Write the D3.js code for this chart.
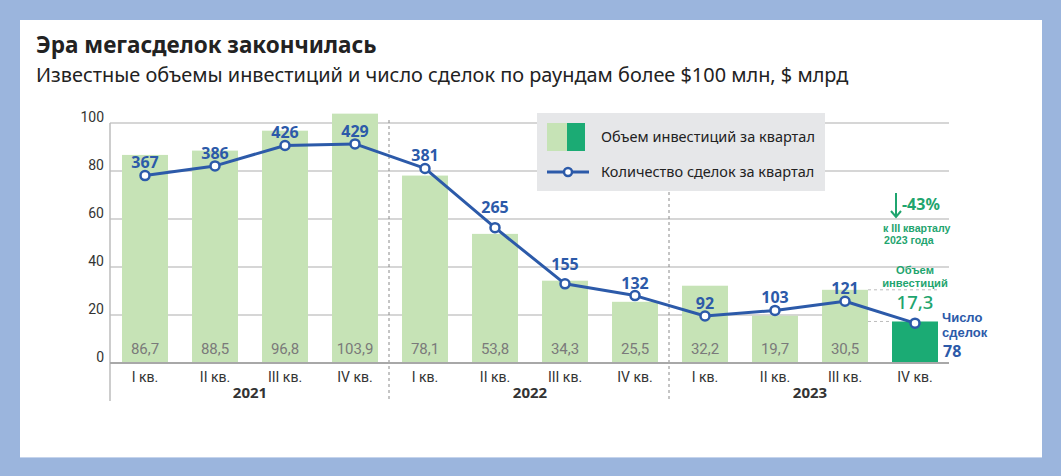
<!DOCTYPE html>
<html><head><meta charset="utf-8">
<script src="https://cdn.jsdelivr.net/npm/d3@7"></script>
<style>
html,body{margin:0;padding:0;background:#9bb5dd;}
svg{display:block;}
</style></head>
<body>
<svg id="chart" width="1061" height="476"></svg>
<script>
const title = "Эра мегасделок закончилась";
const subtitle = "Известные объемы инвестиций и число сделок по раундам более $100 млн, $ млрд";
const quarters = ["I кв.","II кв.","III кв.","IV кв.","I кв.","II кв.","III кв.","IV кв.","I кв.","II кв.","III кв.","IV кв."];
const years = ["2021","2022","2023"];
const investment = [86.7, 88.5, 96.8, 103.9, 78.1, 53.8, 34.3, 25.5, 32.2, 19.7, 30.5, 17.3];
const deals = [367, 386, 426, 429, 381, 265, 155, 132, 92, 103, 121, 78];
const yTicks = [0, 20, 40, 60, 80, 100];
const legendLabels = ["Объем инвестиций за квартал", "Количество сделок за квартал"];
const changeLabel = "-43%";
const changeNote = ["к III кварталу", "2023 года"];
const lastInvLabel = ["Объем", "инвестиций"];
const lastDealLabel = ["Число", "сделок"];

const fmt = v => String(v).replace(".", ",");
const LIGHT = "#c6e3b6", DARK = "#1bab74", BLUE = "#2c5aa9", GREEN = "#1fa56f";

const svg = d3.select("#chart");
svg.append("rect").attr("x",0).attr("y",0).attr("width",1061).attr("height",476).attr("fill","#9bb5dd");
svg.append("rect").attr("x",20).attr("y",20).attr("width",1022).attr("height",437).attr("fill","#fff");
svg.append("line").attr("x1",20).attr("x2",1042).attr("y1",457.5).attr("y2",457.5).attr("stroke","#c5d4ec").attr("stroke-width",1);

svg.append("text").attr("x",36).attr("y",53).text(title)
  .attr("font-family","Noto Sans").attr("font-weight",700).attr("font-size",22.5).attr("fill","#222");
svg.append("text").attr("x",36).attr("y",82).text(subtitle)
  .attr("font-family","Noto Sans").attr("font-size",19.9).attr("fill","#222");

const n = investment.length;
const idx = d3.range(n);
const x = d3.scaleBand().domain(idx).range([110, 950]).paddingInner(24/70).paddingOuter(12/70);
const y = d3.scaleLinear().domain([0, 100]).range([363, 123]);
const y2 = d3.scaleLinear().domain([0, 470]).range([363, 123]);
const cx = i => x(i) + x.bandwidth()/2;
const lastI = n - 1;

// gridlines
const g = svg.append("g");
g.selectAll("line.grid").data(yTicks.filter(t => t > 0)).join("line")
  .attr("x1", 110).attr("x2", t => t === 20 ? x(lastI - 1) + x.bandwidth() : 949)
  .attr("y1", t => y(t)).attr("y2", t => y(t))
  .attr("stroke", "#c9c9c9").attr("stroke-width", 1.5);

// y axis labels
const yAxis = d3.axisLeft(y).tickValues(yTicks).tickSize(0).tickPadding(6);
const ya = svg.append("g").attr("transform","translate(110,-6)").call(yAxis);
ya.select(".domain").remove();
ya.selectAll("text").attr("font-family","Roboto").attr("font-size",14).attr("fill","#333");

// year dividers
const years4 = years.map((yr, k) => idx.filter(i => Math.floor(i/4) === k));
const boundaries = years4.slice(1).map(a => x(a[0]) - x.step()*x.paddingInner()/2 - 1);
svg.append("line").attr("x1",110).attr("x2",110).attr("y1",y(100)).attr("y2",401).attr("stroke","#bcbcbc").attr("stroke-width",1.5);
svg.selectAll("line.div").data(boundaries).join("line")
  .attr("x1", d => d).attr("x2", d => d).attr("y1", 120).attr("y2", 401)
  .attr("stroke","#8a8a8a").attr("stroke-width",1).attr("stroke-dasharray","3,3");

// bars
svg.selectAll("rect.bar").data(investment).join("rect")
  .attr("x",(d,i)=>x(i)).attr("width",x.bandwidth())
  .attr("y",d=>y(d)).attr("height",d=>y(0)-y(d))
  .attr("fill",(d,i)=> i===lastI ? DARK : LIGHT);

// bar value labels
svg.selectAll("text.val").data(investment.slice(0, lastI)).join("text")
  .attr("x",(d,i)=>cx(i)).attr("y",354).attr("text-anchor","middle")
  .attr("font-family","Roboto").attr("font-size",15).attr("fill","#7a7a7a").text(d=>fmt(d));

// baseline
svg.append("line").attr("x1",110).attr("x2",949).attr("y1",y(0)).attr("y2",y(0)).attr("stroke","#a8a8a8").attr("stroke-width",2);

// x axis labels
const xAxis = d3.axisBottom(x).tickFormat(i => quarters[i]).tickSize(0).tickPadding(9);
const xa = svg.append("g").attr("transform",`translate(0,${y(0)})`).call(xAxis);
xa.select(".domain").remove();
xa.selectAll("text").attr("font-family","Roboto").attr("font-size",14).attr("fill","#333");

svg.selectAll("text.year").data(years).join("text")
  .attr("x",(d,k)=>d3.mean(years4[k], cx)).attr("y",398).attr("text-anchor","middle")
  .attr("font-family","Noto Sans").attr("font-weight",700).attr("font-size",15).attr("fill","#333").text(d=>d);

// reference dashed lines for last two bars
svg.append("line").attr("x1",x(lastI-1)+x.bandwidth()).attr("x2",937).attr("y1",y(investment[lastI-1])).attr("y2",y(investment[lastI-1]))
  .attr("stroke","#bdbdbd").attr("stroke-width",1).attr("stroke-dasharray","3,3");
svg.append("line").attr("x1",x(lastI-1)+x.bandwidth()).attr("x2",x(lastI)).attr("y1",y(investment[lastI])).attr("y2",y(investment[lastI]))
  .attr("stroke","#bdbdbd").attr("stroke-width",1).attr("stroke-dasharray","3,3");

// legend
const lg = svg.append("g");
lg.append("rect").attr("x",537).attr("y",113).attr("width",288).attr("height",78).attr("fill","#e6e7e9");
lg.append("rect").attr("x",547).attr("y",123).attr("width",20).attr("height",28).attr("fill",LIGHT);
lg.append("rect").attr("x",567).attr("y",123).attr("width",18).attr("height",28).attr("fill",DARK);
lg.append("line").attr("x1",547).attr("x2",589).attr("y1",172).attr("y2",172).attr("stroke",BLUE).attr("stroke-width",3);
lg.append("circle").attr("cx",568).attr("cy",172).attr("r",4).attr("fill","#fff").attr("stroke",BLUE).attr("stroke-width",2.5);
lg.selectAll("text").data(legendLabels).join("text")
  .attr("x",601).attr("y",(d,i)=>142+i*35).text(d=>d)
  .attr("font-family","Noto Sans").attr("font-size",14.5).attr("fill","#222");

// line
const line = d3.line().x((d,i)=>cx(i)).y(d=>y2(d));
svg.append("path").datum(deals).attr("d",line).attr("fill","none").attr("stroke",BLUE).attr("stroke-width",3).attr("stroke-linejoin","round");
svg.selectAll("circle.pt").data(deals).join("circle")
  .attr("cx",(d,i)=>cx(i)).attr("cy",d=>y2(d)).attr("r",4.5)
  .attr("fill","#fff").attr("stroke",BLUE).attr("stroke-width",2.5);

// deal labels
const labelOffset = i => {
  if (i === 0) return 8;
  const s = (y2(deals[i]) - y2(deals[i-1])) / x.step();
  return Math.max(7, s*14 + 3);
};
svg.selectAll("text.deal").data(deals.slice(0, lastI)).join("text")
  .attr("x",(d,i)=>cx(i)).attr("y",(d,i)=>y2(d)-labelOffset(i)).attr("text-anchor","middle")
  .attr("font-family","Noto Sans").attr("font-weight",700).attr("font-size",16).attr("fill",BLUE).text(d=>d);

// stacked short labels (compact font so lines sit tight)
function stackText(lines, x0, y0, lh, anchor, size, color, indent) {
  lines.forEach((d, i) => {
    svg.append("text").attr("x", x0 + (indent||0)*i).attr("y", y0 + i*lh).attr("text-anchor", anchor)
      .attr("font-family","Liberation Sans").attr("font-weight",700).attr("font-size",size).attr("fill",color).text(d);
  });
}

// annotations
const ax = 896;
svg.append("line").attr("x1",ax).attr("x2",ax).attr("y1",193).attr("y2",217).attr("stroke",GREEN).attr("stroke-width",2);
svg.append("path").attr("d",`M${ax-5},${211} L${ax},${217} L${ax+5},${211}`).attr("fill","none").attr("stroke",GREEN).attr("stroke-width",2);
svg.append("text").attr("x",902).attr("y",210).text(changeLabel)
  .attr("font-family","Noto Sans").attr("font-weight",700).attr("font-size",16).attr("fill",GREEN);
stackText(changeNote, 883, 232, 12, "start", 10.6, GREEN, 1);
stackText(lastInvLabel, 915, 274, 12.6, "middle", 11.2, GREEN, 0);
svg.append("text").attr("x",915).attr("y",309).attr("text-anchor","middle").text(fmt(investment[lastI]))
  .attr("font-family","Noto Sans").attr("font-weight",500).attr("font-size",18.5).attr("fill",GREEN);
stackText(lastDealLabel, 942, 322, 14.6, "start", 13, BLUE, 0);
svg.append("text").attr("x",943).attr("y",357).text(deals[lastI])
  .attr("font-family","Noto Sans").attr("font-weight",700).attr("font-size",16).attr("fill",BLUE);
</script>
</body></html>
